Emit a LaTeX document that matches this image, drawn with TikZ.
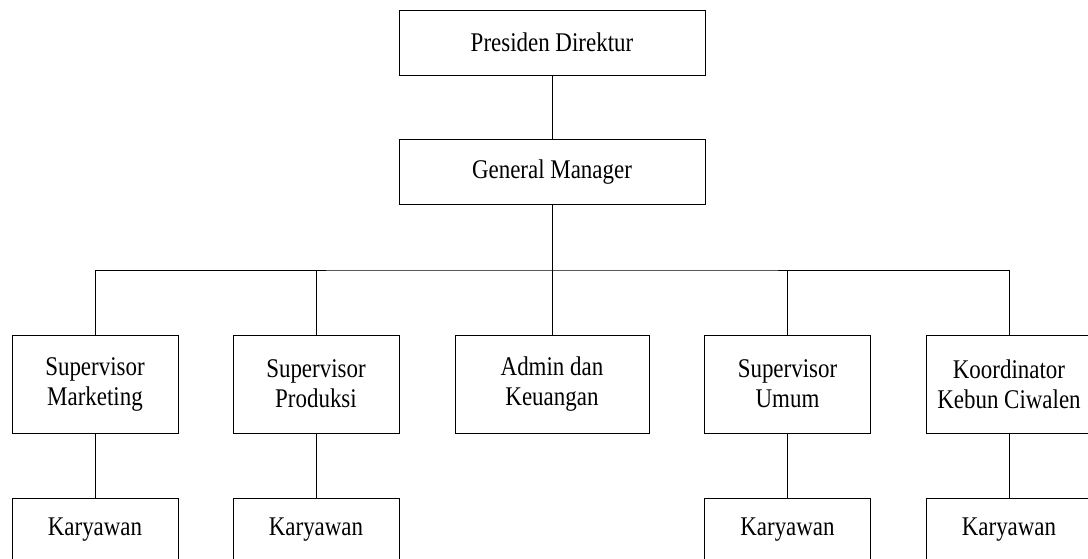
\documentclass[tikz,border=0pt]{standalone}
\usepackage{fontspec}
\setmainfont{Liberation Serif}[FakeStretch=0.85]
\begin{document}
\begin{tikzpicture}[x=1pt,y=-1pt,
  box/.style={draw=black,line width=0.9pt,inner sep=0pt,align=center,
    font=\fontsize{27}{30}\selectfont},
  wide/.style={box,minimum width=306pt,minimum height=65pt},
  unit/.style={box,minimum width=166pt,minimum height=98pt},
  staff/.style={box,minimum width=166pt,minimum height=64pt},
  link/.style={draw=black,line width=0.9pt}]
\useasboundingbox (0,0) rectangle (1088,558);
\clip (0,0) rectangle (1088,558);
\node[wide] (pd) at (552,42.5) {Presiden Direktur};
\node[wide] (gm) at (552,172) {General Manager};
\coordinate (bus) at (552,270);
\node[unit] (sm) at (95,384) {Supervisor\\Marketing};
\node[unit] (sp) at (316,384) {Supervisor\\Produksi};
\node[unit,minimum width=194pt] (ak) at (552,384) {Admin dan\\Keuangan};
\node[unit] (su) at (787.5,384) {Supervisor\\Umum};
\node[unit] (kk) at (1009,384) {Koordinator\\Kebun Ciwalen};
\node[staff] (k1) at (95,530) {Karyawan};
\node[staff] (k2) at (316,530) {Karyawan};
\node[staff] (k4) at (787.5,530) {Karyawan};
\node[staff] (k5) at (1009,530) {Karyawan};
\draw[link] (pd) -- (gm);
\draw[link] (gm) -- (bus);
\draw[link] (sm.north) |- (bus) -| (kk.north);
\draw[link] (sp.north) -- (sp.north |- bus);
\draw[link] (ak.north) -- (bus);
\draw[link] (su.north) -- (su.north |- bus);
\draw[link] (sm) -- (k1);
\draw[link] (sp) -- (k2);
\draw[link] (su) -- (k4);
\draw[link] (kk) -- (k5);
\end{tikzpicture}
\end{document}
